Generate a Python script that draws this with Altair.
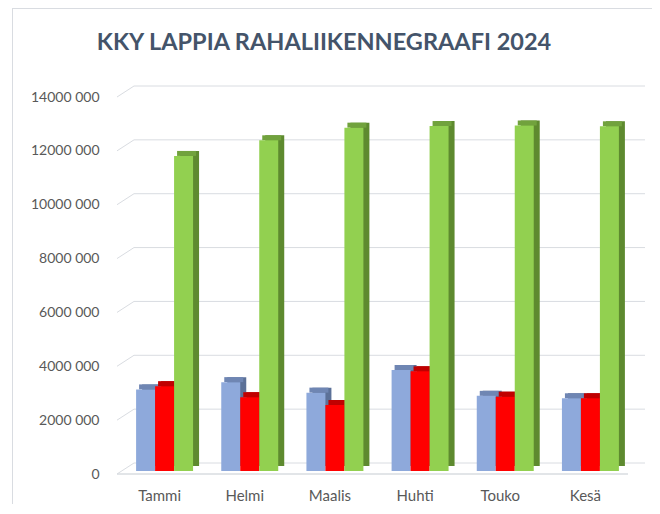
import altair as alt
import pandas as pd

# ---- data ----
months = ["Tammi", "Helmi", "Maalis", "Huhti", "Touko", "Kesä"]
series = ["Sarja 1", "Sarja 2", "Sarja 3"]
sarja1 = [3030000, 3300000, 2910000, 3750000, 2790000, 2700000]
sarja2 = [3150000, 2740000, 2450000, 3700000, 2760000, 2700000]
sarja3 = [11700000, 12280000, 12750000, 12810000, 12830000, 12800000]
tick_values = [0, 2000000, 4000000, 6000000, 8000000, 10000000, 12000000, 14000000]
title_text = "KKY LAPPIA RAHALIIKENNEGRAAFI 2024"

front_colors = ["#8EA9DB", "#FF0000", "#92D050"]
top_colors = ["#6F86B3", "#C00000", "#71A23D"]
side_colors = ["#5C7198", "#A80000", "#5E8A2F"]

rows = []
for i, m in enumerate(months):
    for s, vals in zip(series, [sarja1, sarja2, sarja3]):
        rows.append({"kk": m, "sarja": s, "arvo": vals[i]})
df = pd.DataFrame(rows)
grid = pd.DataFrame({"v": tick_values})
one = pd.DataFrame({"v": [0]})

W, H = 511, 377
DX, DY = 17, 11          # depth of the walls
BX, BY = 6, 5            # depth of bars
SHIFT_X, SHIFT_Y = 5, -3 # bars sit a little behind the front plane
GRID = "#D9DCE1"
FONT = "Lato"
LABEL = "#595959"

yscale = alt.Scale(domain=[0, 14000000], nice=False, zero=True)
off_scale = alt.Scale(domain=series, paddingInner=0, paddingOuter=0)
yaxis = alt.Axis(title=None, values=tick_values, ticks=False, domain=False, grid=False,
                 labelPadding=18, labelFont=FONT, labelFontSize=14, labelColor=LABEL,
                 labelExpr="datum.value == 0 ? '0' : format(datum.value / 1000, 'd') + ' 000'")


def xscale(shift):
    return alt.Scale(domain=months, paddingInner=0.331, paddingOuter=0.1655,
                     range=[shift, W + shift])


xoff = alt.XOffset("sarja:N", scale=off_scale, sort=series)

# walls / grid
back_grid = alt.Chart(grid).mark_rule(color=GRID, strokeWidth=1, yOffset=-DY).encode(
    y=alt.Y("v:Q", scale=yscale, axis=yaxis),
    x=alt.value(DX), x2=alt.value(W + DX),
)
side_grid = alt.Chart(grid).mark_rule(color=GRID, strokeWidth=1, y2Offset=-DY).encode(
    y=alt.Y("v:Q", scale=yscale, axis=yaxis), y2=alt.Y2("v"),
    x=alt.value(0), x2=alt.value(DX),
)
floor_front = alt.Chart(one).mark_rule(color=GRID, strokeWidth=1.5).encode(
    y=alt.Y("v:Q", scale=yscale, axis=yaxis),
    x=alt.value(0), x2=alt.value(W),
)
border_left = alt.Chart(one).mark_rule(color=GRID, strokeWidth=1).encode(
    x=alt.value(-104.5), y=alt.value(-89), y2=alt.value(H + 30),
)
border_top = alt.Chart(one).mark_rule(color=GRID, strokeWidth=1).encode(
    y=alt.value(-88.5), x=alt.value(-104.5), x2=alt.value(W + 24),
)
title = alt.Chart(one).mark_text(
    text=title_text, font=FONT, fontSize=23.5, fontWeight="bold", color="#44546A",
    align="center", baseline="alphabetic",
).encode(x=alt.value(324 - 117), y=alt.value(50 - 97))

# bars: side, top, front
side = alt.Chart(df).mark_bar(yOffset=SHIFT_Y - BY, y2Offset=SHIFT_Y - BY).encode(
    x=alt.X("kk:N", scale=xscale(SHIFT_X + BX), sort=months, axis=None),
    xOffset=xoff,
    y=alt.Y("arvo:Q", scale=yscale, axis=yaxis),
    color=alt.Color("sarja:N", scale=alt.Scale(domain=series, range=side_colors), legend=None),
)
top = alt.Chart(df).transform_calculate(yla="datum.arvo").mark_bar(
    yOffset=SHIFT_Y - BY, y2Offset=SHIFT_Y
).encode(
    x=alt.X("kk:N", scale=xscale(SHIFT_X + BX / 2), sort=months, axis=None),
    xOffset=xoff,
    y=alt.Y("arvo:Q", scale=yscale, axis=yaxis), y2=alt.Y2("yla:Q"),
    color=alt.Color("sarja:N", scale=alt.Scale(domain=series, range=top_colors), legend=None),
)
front = alt.Chart(df).mark_bar(yOffset=SHIFT_Y, y2Offset=SHIFT_Y).encode(
    x=alt.X("kk:N", scale=xscale(SHIFT_X), sort=months,
            axis=alt.Axis(title=None, labelAngle=0, ticks=False, domain=False, grid=False,
                          labelPadding=14, labelOffset=-SHIFT_X, labelFont=FONT,
                          labelFontSize=15, labelColor=LABEL)),
    xOffset=xoff,
    y=alt.Y("arvo:Q", scale=yscale, axis=yaxis),
    color=alt.Color("sarja:N", scale=alt.Scale(domain=series, range=front_colors), legend=None),
)

chart = alt.layer(
    border_left, border_top, title, back_grid, side_grid, floor_front, side, top, front
).resolve_scale(x="independent", color="independent").properties(
    width=W, height=H,
    background="white",
    autosize=alt.AutoSizeParams(type="none"),
    padding={"left": 109, "top": 89, "right": 24, "bottom": 30},
).configure_view(stroke=None)

chart.save("out.html", embed_options={"renderer": "svg", "actions": False})
